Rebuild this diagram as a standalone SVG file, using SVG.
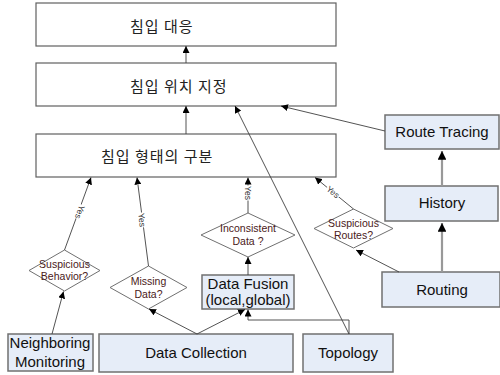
<svg xmlns="http://www.w3.org/2000/svg" width="500" height="375" viewBox="0 0 500 375">
  <style>
    .stage { fill: #ffffff; stroke: #606060; stroke-width: 1.2; }
    .src { fill: #e6edf8; stroke: #707070; stroke-width: 1.5; }
    .dec { fill: #ffffff; stroke: #707070; stroke-width: 1; }
    .ko { font-family: "Noto Sans CJK KR", "Noto Sans", sans-serif; font-size: 15px; fill: #222; letter-spacing: 1px; }
    .lbl { font-family: "Liberation Sans", Arial, sans-serif; font-size: 15px; fill: #111; text-anchor: middle; }
    .q { font-family: "Liberation Sans", Arial, sans-serif; font-size: 10.5px; fill: #4a2020; text-anchor: middle; }
    .yes { font-family: "Liberation Sans", Arial, sans-serif; font-size: 8.5px; fill: #333; text-anchor: middle; }
    .ln { fill: none; stroke: #404040; stroke-width: 0.9; }
    .thick { fill: none; stroke: #999999; stroke-width: 2.2; }
  </style>
  <defs>
    <marker id="ah" viewBox="0 0 10 10" refX="10" refY="5" markerWidth="7" markerHeight="7" markerUnits="userSpaceOnUse" orient="auto">
      <path d="M0,0 L10,5 L0,10 z" fill="#000"/>
    </marker>
    <marker id="ahb" viewBox="0 0 10 10" refX="10" refY="5" markerWidth="4" markerHeight="4" orient="auto">
      <path d="M0,0 L10,5 L0,10 z" fill="#000"/>
    </marker>
  </defs>

  <!-- stage boxes -->
  <g id="response">
    <rect class="stage" x="36" y="3" width="300" height="43"/>
    <text class="ko" x="130" y="32">침입 대응</text>
  </g>
  <g id="localization">
    <rect class="stage" x="36" y="63" width="300" height="43"/>
    <text class="ko" x="130" y="92">침입 위치 지정</text>
  </g>
  <g id="classification">
    <rect class="stage" x="36" y="134" width="300" height="43"/>
    <text class="ko" x="101" y="162">침입 형태의 구분</text>
  </g>

  <!-- source boxes -->
  <g id="route-tracing">
    <rect class="src" x="385" y="115" width="114" height="34"/>
    <text class="lbl" x="442" y="137">Route Tracing</text>
  </g>
  <g id="history">
    <rect class="src" x="385" y="186" width="113" height="35"/>
    <text class="lbl" x="442" y="208">History</text>
  </g>
  <g id="routing">
    <rect class="src" x="382" y="272" width="118" height="35"/>
    <text class="lbl" x="442" y="295">Routing</text>
  </g>
  <g id="topology">
    <rect class="src" x="303" y="334" width="90" height="38"/>
    <text class="lbl" x="348" y="358">Topology</text>
  </g>
  <g id="data-collection">
    <rect class="src" x="99" y="334" width="194" height="38"/>
    <text class="lbl" x="196" y="358">Data Collection</text>
  </g>
  <g id="neighboring-monitoring">
    <rect class="src" x="8" y="334" width="85" height="37"/>
    <text class="lbl" x="50" y="348">Neighboring</text>
    <text class="lbl" x="50" y="367">Monitoring</text>
  </g>
  <g id="data-fusion">
    <rect class="src" x="202" y="275" width="92" height="34"/>
    <text class="lbl" x="248" y="289">Data Fusion</text>
    <text class="lbl" x="248" y="305">(local,global)</text>
  </g>

  <!-- decisions -->
  <g id="suspicious-behavior">
    <polygon class="dec" points="64.5,250 100,270.5 64.5,291 29,270.5"/>
    <text class="q" x="64.5" y="268">Suspicious</text>
    <text class="q" x="64.5" y="280">Behavior?</text>
  </g>
  <g id="missing-data">
    <polygon class="dec" points="148.5,266 187,287.5 148.5,309 110,287.5"/>
    <text class="q" x="148.5" y="285">Missing</text>
    <text class="q" x="148.5" y="298">Data?</text>
  </g>
  <g id="inconsistent-data">
    <polygon class="dec" points="248,213 295,235 248,257 201,235"/>
    <text class="q" x="248" y="232">Inconsistent</text>
    <text class="q" x="248" y="245">Data ?</text>
  </g>
  <g id="suspicious-routes">
    <polygon class="dec" points="353.5,209 393,228.5 353.5,248 314,228.5"/>
    <text class="q" x="353.5" y="227">Suspicious</text>
    <text class="q" x="353.5" y="239">Routes?</text>
  </g>

  <!-- connectors -->
  <g id="connectors">
    <line class="ln" x1="186" y1="63" x2="186" y2="46" marker-end="url(#ah)"/>
    <line class="ln" x1="186" y1="134" x2="186" y2="106" marker-end="url(#ah)"/>
    <line class="ln" x1="385" y1="131" x2="281" y2="106" marker-end="url(#ah)"/>
    <line class="thick" x1="442" y1="186" x2="442" y2="151" marker-end="url(#ahb)"/>
    <line class="thick" x1="442" y1="272" x2="442" y2="223" marker-end="url(#ahb)"/>
    <line class="ln" x1="349" y1="334" x2="235" y2="106" marker-end="url(#ah)"/>
    <polyline class="ln" points="349,334 349,320 248,320 248,309.5" marker-end="url(#ah)"/>
    <line class="ln" x1="197" y1="334" x2="245" y2="309.5" marker-end="url(#ah)"/>
    <line class="ln" x1="197" y1="334" x2="149" y2="309" marker-end="url(#ah)"/>
    <line class="ln" x1="52" y1="334" x2="63.5" y2="291.5" marker-end="url(#ah)"/>
    <line class="ln" x1="248" y1="275" x2="248" y2="257" marker-end="url(#ah)"/>
    <line class="ln" x1="399" y1="272" x2="356" y2="250" marker-end="url(#ah)"/>
    <!-- yes branches -->
    <line class="ln" x1="64.5" y1="250" x2="91" y2="177.5" marker-end="url(#ah)"/>
    <line class="ln" x1="148.5" y1="266" x2="137" y2="177.5" marker-end="url(#ah)"/>
    <line class="ln" x1="248" y1="213" x2="248" y2="177.5" marker-end="url(#ah)"/>
    <line class="ln" x1="353.5" y1="209" x2="315" y2="177.5" marker-end="url(#ah)"/>
    <g>
      <rect x="-7.5" y="-4.5" width="15" height="8" fill="#fff" transform="translate(80,212) rotate(110)"/>
      <text class="yes" transform="translate(80,212) rotate(110)" y="3">Yes</text>
      <rect x="-7.5" y="-4.5" width="15" height="8" fill="#fff" transform="translate(142,220) rotate(83)"/>
      <text class="yes" transform="translate(142,220) rotate(83)" y="3">Yes</text>
      <rect x="-7.5" y="-4.5" width="15" height="8" fill="#fff" transform="translate(248,193) rotate(90)"/>
      <text class="yes" transform="translate(248,193) rotate(90)" y="3">Yes</text>
      <rect x="-7.5" y="-4.5" width="15" height="8" fill="#fff" transform="translate(333,192) rotate(39)"/>
      <text class="yes" transform="translate(333,192) rotate(39)" y="3">Yes</text>
    </g>
  </g>
</svg>
